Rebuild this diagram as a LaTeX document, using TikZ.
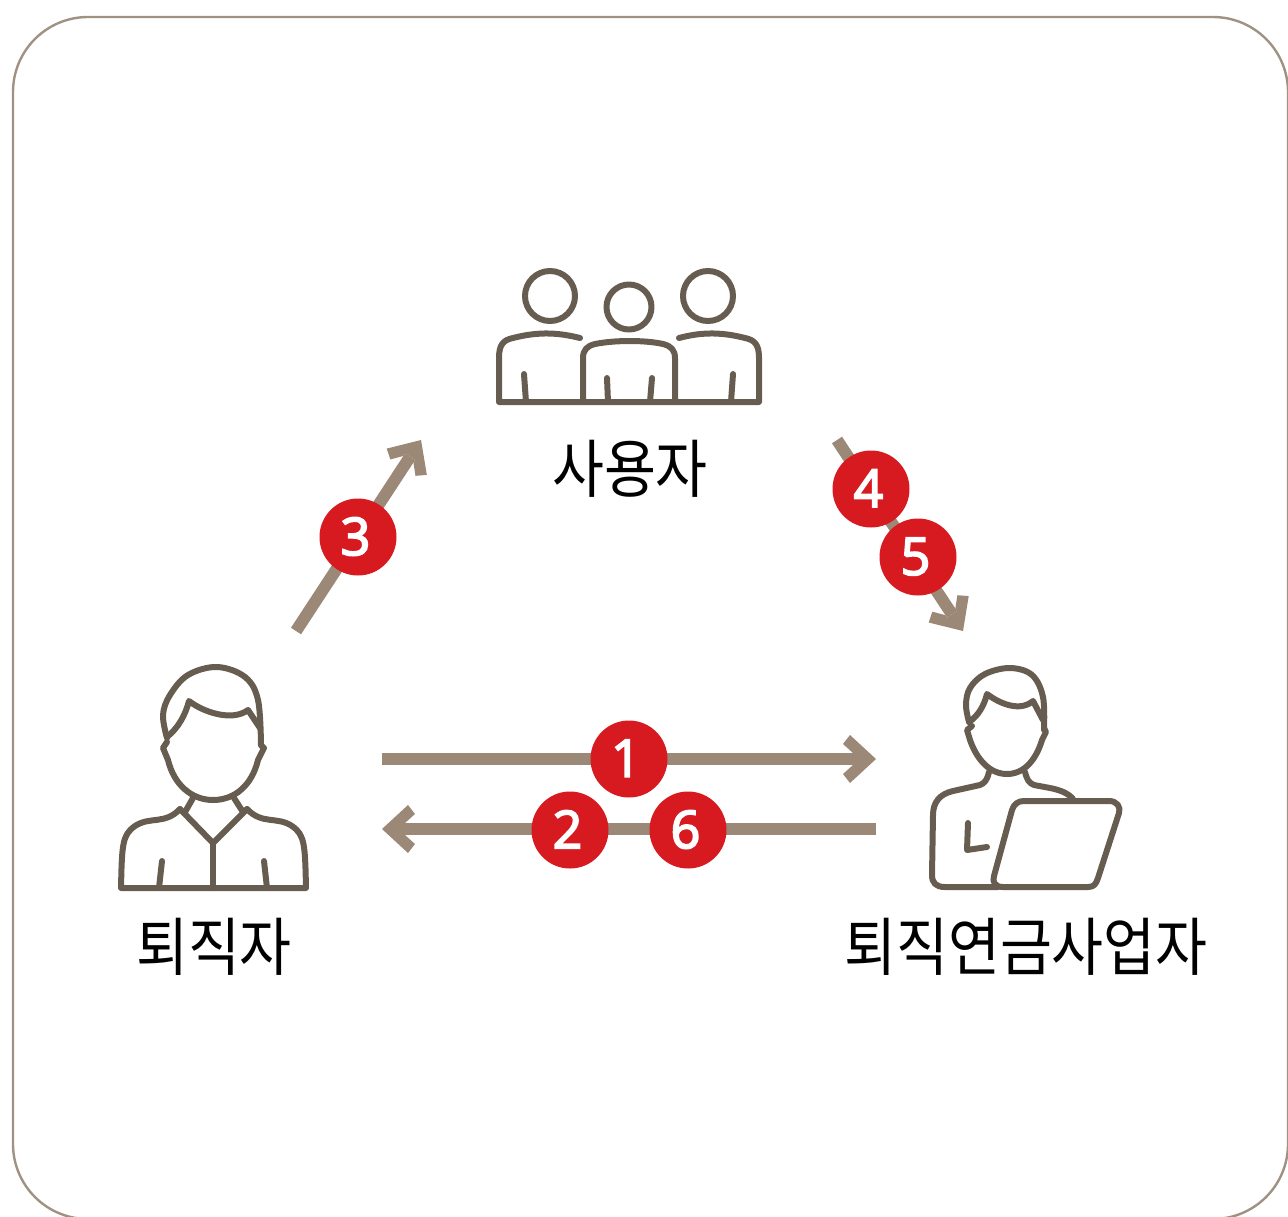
\documentclass[tikz,border=0pt]{standalone}
\usepackage{fontspec}
\setmainfont{Noto Sans CJK KR}
\newfontfamily\digitfont[FakeBold=3.5]{Open Sans}
\usetikzlibrary{arrows.meta}
\definecolor{framec}{HTML}{A09282}
\definecolor{iconc}{HTML}{665C4F}
\definecolor{flowc}{HTML}{9B8876}
\definecolor{badgec}{HTML}{D71920}
\pgfdeclarearrow{
  name=Chevron,
  setup code={
    \pgfarrowssettipend{0pt}
    \pgfarrowssetbackend{-34pt}
    \pgfarrowssetlineend{-20pt}
    \pgfarrowssetvisualbackend{-20pt}
    \pgfarrowshullpoint{0pt}{0pt}
    \pgfarrowshullpoint{-34pt}{25pt}
    \pgfarrowshullpoint{-34pt}{-25pt}
  },
  drawing code={
    \pgfpathmoveto{\pgfqpoint{0pt}{0pt}}
    \pgfpathlineto{\pgfqpoint{-26pt}{24pt}}
    \pgfpathlineto{\pgfqpoint{-33pt}{15pt}}
    \pgfpathlineto{\pgfqpoint{-23pt}{6pt}}
    \pgfpathlineto{\pgfqpoint{-20pt}{6pt}}
    \pgfpathlineto{\pgfqpoint{-20pt}{-6pt}}
    \pgfpathlineto{\pgfqpoint{-23pt}{-6pt}}
    \pgfpathlineto{\pgfqpoint{-33pt}{-15pt}}
    \pgfpathlineto{\pgfqpoint{-26pt}{-24pt}}
    \pgfpathclose
    \pgfsetfillcolor{flowc}
    \pgfusepathqfill
  }
}
\newcommand{\tallbox}[1]{\scalebox{1}[1.12]{#1}}
\tikzset{
  icon/.style={draw=iconc,line width=6pt,line cap=round,line join=round},
  flow/.style={draw=flowc,line width=12pt,-{Chevron}},
  badge/.style={circle,fill=badgec,text=white,minimum size=77pt,inner sep=0pt,
    font=\digitfont\fontsize{52}{52}\selectfont},
  role/.style={text=black,inner sep=0pt,font=\fontsize{56.5}{60}\selectfont},
}
\begin{document}
\begin{tikzpicture}[x=1pt,y=-1pt]
\useasboundingbox (0,0) rectangle (1288,1216);
\draw[framec,line width=2.4pt,rounded corners=75pt] (13,17) rectangle (1288,1219);

% retiree icon
\draw[icon] plot[smooth,tension=.6] coordinates {(167,738) (163,715) (170,695) (188,675) (217,667) (245,677) (258,700) (261,745)};
\draw[icon] (167,737) .. controls (178,728) and (185,716) .. (189,701)
  .. controls (203,712) and (232,722) .. (248,710) -- (260,728);
\draw[icon] (167,742) -- (163,748) -- (168,760) .. controls (174,785) and (192,800) .. (213,800)
  .. controls (235,800) and (252,785) .. (258,760) -- (264,748) -- (261,745);
\draw[icon] (193,798) -- (185,812);
\draw[icon] (234,798) -- (243,812);
\draw[icon] (180,809) -- (213,843) -- (247,809);
\draw[icon] (213,843) -- (213,888);
\draw[icon] (180,809) .. controls (165,825) and (150,816) .. (135,826) .. controls (122,835) and (122,845) .. (121,888)
  -- (306,888) .. controls (305,845) and (305,835) .. (292,826) .. controls (277,816) and (262,825) .. (247,809);
\draw[icon] (162,861) -- (159,888);
\draw[icon] (264,861) -- (267,888);

% users icon
\draw[icon] (550,296) circle (25);
\draw[icon] (629,307) circle (22.5);
\draw[icon] (708,296) circle (25);
\draw[icon] (580,338) .. controls (560,333) and (540,331) .. (513,338) .. controls (503,340) and (499,345) .. (499,358) -- (499,402)
  -- (759,402) -- (759,358) .. controls (759,345) and (755,340) .. (745,338) .. controls (718,331) and (698,333) .. (679,338);
\draw[icon] (583,402) -- (583,358) .. controls (583,350) and (587,346) .. (595,344) .. controls (615,340) and (645,340) .. (663,344)
  .. controls (671,346) and (675,350) .. (675,358) -- (675,402);
\draw[icon] (524,374) -- (526,402);
\draw[icon] (607,378) -- (608,402);
\draw[icon] (652,378) -- (650,402);
\draw[icon] (733,374) -- (731,402);

% provider icon
\draw[icon] plot[smooth,tension=.6] coordinates {(969,722) (966,705) (970,688) (985,674) (1010,668) (1032,675) (1043,697) (1044,730)};
\draw[icon] (969,722) .. controls (978,716) and (984,706) .. (987,694)
  .. controls (1000,704) and (1020,712) .. (1033,701) -- (1043,720);
\draw[icon] (972,726) -- (967,730) -- (970,740) .. controls (977,760) and (990,774) .. (1007,774)
  .. controls (1024,774) and (1036,760) .. (1042,740) -- (1046,732) -- (1044,728);
\draw[icon] (989,772) .. controls (987,780) and (985,783) .. (980,785) -- (953,791) .. controls (940,794) and (933,802) .. (933,815)
  -- (932,875) .. controls (932,883) and (936,887) .. (945,887) -- (998,887);
\draw[icon] (1025,772) .. controls (1027,780) and (1029,783) .. (1034,785) -- (1050,788) .. controls (1060,790) and (1068,793) .. (1073,799);
\draw[icon] (968,823) -- (967,850) -- (987,847);
\draw[icon] (1024,801) -- (1109,801) .. controls (1117,801) and (1121,807) .. (1119,813)
  -- (1098,878) .. controls (1096,884) and (1094,887) .. (1088,887) -- (1003,887)
  .. controls (995,887) and (992,882) .. (994,876) -- (1012,810) .. controls (1014,804) and (1018,801) .. (1024,801) -- cycle;

% labels
\node[role] (retiree) at (214,947) {\tallbox{퇴직자}};
\node[role] (users) at (630,469) {\tallbox{사용자}};
\node[role] (provider) at (1026,947) {\tallbox{퇴직연금사업자}};

% connector end points
\coordinate (a1s) at (382,759); \coordinate (a1e) at (876,759);
\coordinate (a2s) at (876,829); \coordinate (a2e) at (382,829);
\coordinate (a3s) at (296,631); \coordinate (a3e) at (421,440);
\coordinate (a4s) at (837,440); \coordinate (a4e) at (963,631);
\draw[flow] (a1s) -- (a1e);
\draw[flow] (a2s) -- (a2e);
\draw[flow] (a3s) -- (a3e);
\draw[flow] (a4s) -- (a4e);

% badges
\node[badge] (b1) at (629,759) {\raisebox{1.5pt}{1}\hspace*{6pt}};
\node[badge] (b2) at (570,830) {\raisebox{1.5pt}{2}\hspace*{5pt}};
\node[badge] (b6) at (688,830) {\raisebox{1.5pt}{6}\hspace*{5pt}};
\node[badge] (b3) at (358,537) {\raisebox{1.5pt}{3}\hspace*{5pt}};
\node[badge] (b4) at (871,489) {\raisebox{1.5pt}{4}\hspace*{5pt}};
\node[badge] (b5) at (918,557) {\raisebox{1.5pt}{5}\hspace*{5pt}};
\end{tikzpicture}
\end{document}
